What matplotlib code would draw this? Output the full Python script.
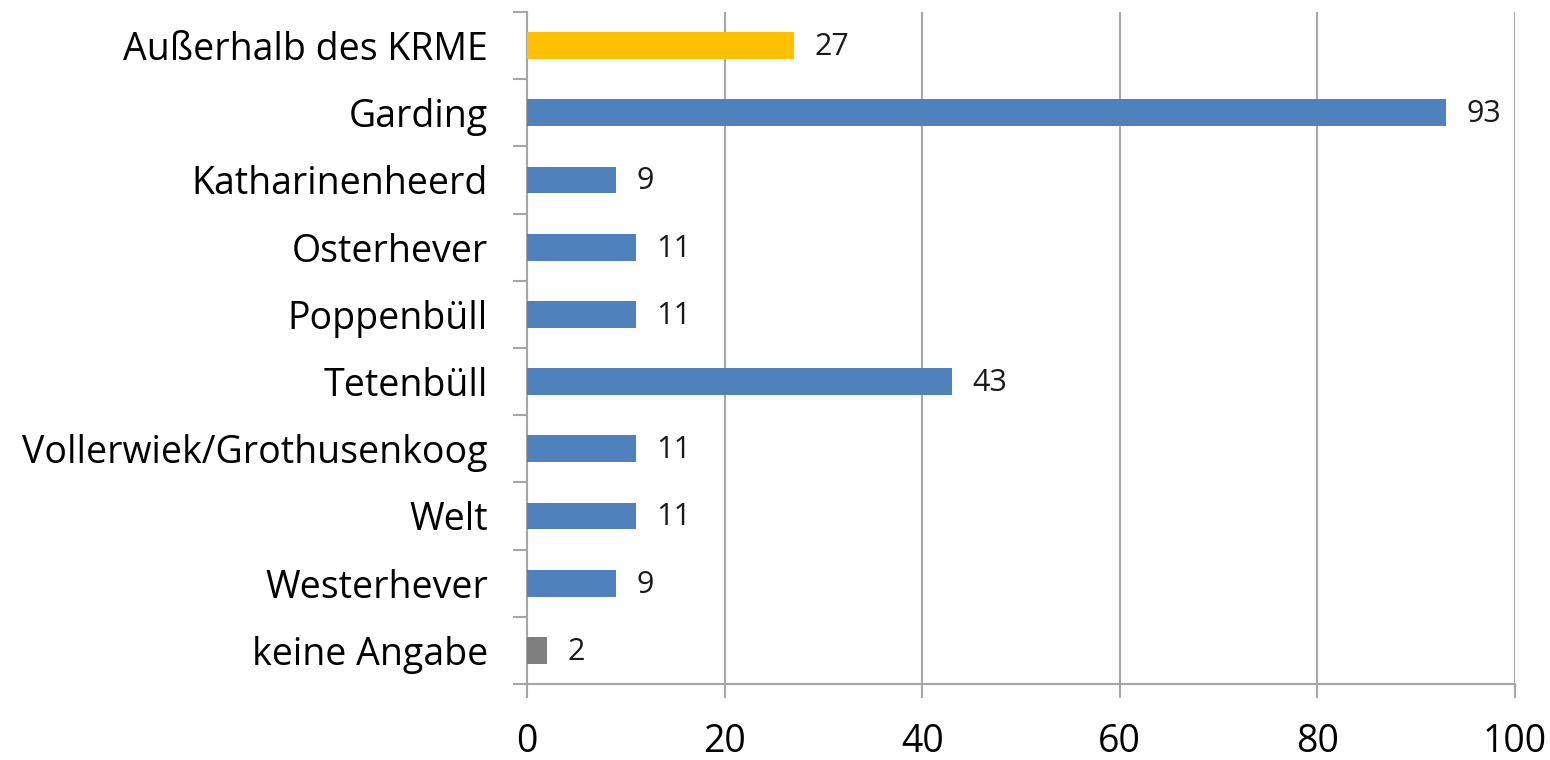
import matplotlib.pyplot as plt

# data
categories = ["Außerhalb des KRME", "Garding", "Katharinenheerd", "Osterhever",
              "Poppenbüll", "Tetenbüll", "Vollerwiek/Grothusenkoog", "Welt",
              "Westerhever", "keine Angabe"]
values = [27, 93, 9, 11, 11, 43, 11, 11, 9, 2]
bar_colors = ["#FFC000"] + ["#4F81BD"] * 8 + ["#7F7F7F"]
x_ticks = [0, 20, 40, 60, 80, 100]

GRID = "#A6A6A6"
plt.rcParams["font.family"] = ["Open Sans", "DejaVu Sans"]

fig = plt.figure(figsize=(15.5, 7.6), dpi=100)
ax = fig.add_axes([527 / 1550, (760 - 684) / 760, (1515 - 527) / 1550, (684 - 12) / 760])

pos = list(range(len(categories)))
ax.barh(pos, values, height=0.4, color=bar_colors, zorder=3)
for p, v in zip(pos, values):
    ax.annotate(str(v), (v, p), xytext=(15, -1), textcoords="offset points",
                va="center", ha="left", fontsize=22, color="#1a1a1a")

ax.set_xlim(0, 100)
ax.set_ylim(len(categories) - 0.5, -0.5)
ax.set_xticks(x_ticks)
ax.set_xticklabels([str(t) for t in x_ticks], fontsize=27)
ax.tick_params(axis="x", length=10, width=1.5, color=GRID, pad=18)

# category labels centred on bars, tick marks between them
ax.set_yticks([p - 0.5 for p in pos] + [len(categories) - 0.5])
ax.set_yticklabels([])
ax.set_yticks(pos, minor=True)
ax.set_yticklabels(categories, minor=True, fontsize=27)
ax.tick_params(axis="y", which="major", length=10, width=1.5, color=GRID)
ax.tick_params(axis="y", which="minor", length=0, pad=28)

ax.grid(axis="x", color=GRID, linewidth=1.5, zorder=0)
for side in ["top", "right"]:
    ax.spines[side].set_visible(False)
for side in ["left", "bottom"]:
    ax.spines[side].set_color(GRID)
    ax.spines[side].set_linewidth(1.5)

fig.savefig("out.png", dpi=100, facecolor="white")
